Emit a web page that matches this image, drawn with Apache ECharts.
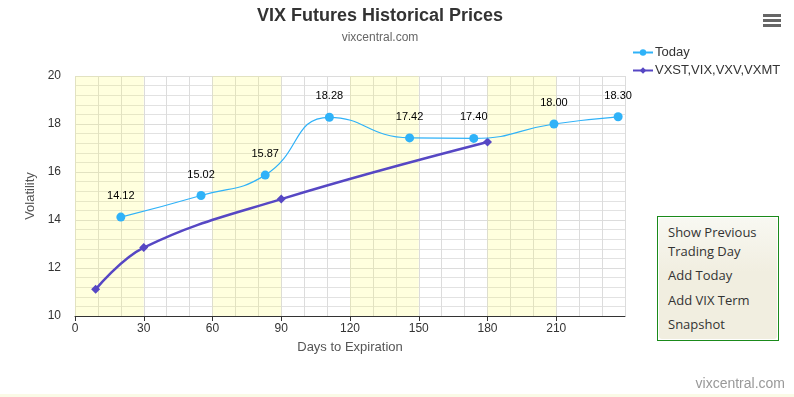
<!DOCTYPE html>
<html>
<head>
<meta charset="utf-8">
<script src="https://cdn.jsdelivr.net/npm/echarts@6/dist/echarts.min.js"></script>
<style>
  html, body { margin: 0; padding: 0; background: #fff; }
  #chart { width: 794px; height: 397px; position: relative; }
  #strip { position: absolute; left: 0; top: 394px; width: 794px; height: 3px; background: #fafae6; }
  #menu {
    position: absolute; left: 657px; top: 216px; width: 120px; height: 123px;
    border: 1px solid #1a8a1a; background: #fff;
    font-family: "Open Sans", "DejaVu Sans", sans-serif; font-size: 13px; color: #333;
  }
  #menu .inner {
    position: absolute; left: 1px; top: 1px; right: 1px; bottom: 1px; border-radius: 3px;
    background: linear-gradient(#f8f8f2, #f1eee0 45%, #f1eee0);
  }
  #menu .item { position: absolute; left: 9px; line-height: 19px; white-space: nowrap; }
</style>
</head>
<body>
<div id="chart"></div>
<div id="strip"></div>
<div id="menu"><div class="inner">
  <div class="item" style="top:5px">Show Previous<br>Trading Day</div>
  <div class="item" style="top:48px">Add Today</div>
  <div class="item" style="top:73px">Add VIX Term</div>
  <div class="item" style="top:97px">Snapshot</div>
</div></div>
<script>
// days to expiration vs price
const todayDays = [20, 55, 83, 111, 146, 174, 209, 237];
const todayPrices = [14.12, 15.02, 15.87, 18.28, 17.42, 17.40, 18.00, 18.30];
const termDays = [9, 30, 90, 180];
const termValues = [11.11, 12.85, 14.87, 17.25];
const bands = [[0, 30], [60, 90], [120, 150], [180, 210]];

const font = '"Liberation Sans", Arial, sans-serif';
const chart = echarts.init(document.getElementById('chart'), null, { renderer: 'canvas' });

const option = {
  animation: false,
  textStyle: { fontFamily: font },
  title: {
    text: 'VIX Futures Historical Prices',
    subtext: 'vixcentral.com',
    left: 375,
    textAlign: 'center',
    top: 2,
    itemGap: 7,
    textStyle: { fontSize: 18, fontWeight: 'bold', color: '#333', fontFamily: font },
    subtextStyle: { fontSize: 12, color: '#666', fontFamily: font }
  },
  legend: {
    orient: 'vertical',
    left: 627,
    top: 41,
    itemGap: 5,
    itemWidth: 20,
    itemHeight: 8,
    itemStyle: {},
    textStyle: { fontSize: 13, color: '#333', fontFamily: font, padding: [0, 0, 0, -3] },
    data: ['Today', 'VXST,VIX,VXV,VXMT']
  },
  grid: { left: 75, right: 169, top: 76, bottom: 81 },
  xAxis: {
    type: 'value',
    min: 0,
    max: 240,
    interval: 30,
    name: 'Days to Expiration',
    nameLocation: 'middle',
    nameGap: 25,
    nameTextStyle: { fontSize: 13, color: '#555' },
    axisLine: { show: true, lineStyle: { color: '#333', width: 1 } },
    axisTick: { show: true, length: 5, lineStyle: { color: '#333' } },
    axisLabel: { fontSize: 12, color: '#333', margin: 7, showMaxLabel: false },
    splitLine: { show: true, lineStyle: { color: '#dcdcdc' } },
    minorTick: { show: false, splitNumber: 3 },
    minorSplitLine: { show: true, lineStyle: { color: '#dcdcdc' } }
  },
  yAxis: {
    type: 'value',
    min: 10,
    max: 20,
    interval: 2,
    name: 'Volatility',
    nameLocation: 'middle',
    nameGap: 36,
    nameTextStyle: { fontSize: 13, color: '#555' },
    axisLine: { show: false },
    axisTick: { show: false },
    axisLabel: { fontSize: 12, color: '#333', margin: 14 },
    splitLine: { show: true, lineStyle: { color: '#dcdcdc' } },
    minorTick: { show: false, splitNumber: 5 },
    minorSplitLine: { show: true, lineStyle: { color: '#e2e2e2' } }
  },
  series: [
    {
      name: 'Today',
      type: 'line',
      smooth: 0.5,
      symbol: 'circle',
      symbolSize: 9,
      z: 3,
      color: '#2fb2f8',
      lineStyle: { width: 1.2, color: '#2fb2f8' },
      itemStyle: { color: '#2fb2f8' },
      label: {
        show: true,
        position: 'top',
        distance: 11,
        fontSize: 11,
        color: '#000',
        formatter: (p) => p.value[1].toFixed(2)
      },
      markArea: {
        silent: true,
        itemStyle: { color: 'rgba(255,255,60,0.17)' },
        data: bands.map((b) => [{ xAxis: b[0] }, { xAxis: b[1] }])
      },
      data: todayDays.map((d, i) => [d, todayPrices[i]])
    },
    {
      name: 'VXST,VIX,VXV,VXMT',
      type: 'line',
      smooth: 0.4,
      symbol: 'diamond',
      symbolSize: 9,
      z: 2,
      color: '#5647c4',
      lineStyle: { width: 2.5, color: '#5647c4' },
      itemStyle: { color: '#5647c4' },
      data: termDays.map((d, i) => [d, termValues[i]])
    }
  ],
  graphic: [
    { type: 'rect', left: 763, top: 14, shape: { width: 18, height: 3 }, style: { fill: '#666' } },
    { type: 'rect', left: 763, top: 19, shape: { width: 18, height: 3 }, style: { fill: '#666' } },
    { type: 'rect', left: 763, top: 24, shape: { width: 18, height: 3 }, style: { fill: '#666' } },
    {
      type: 'text', right: 9, top: 377,
      style: { text: 'vixcentral.com', fontSize: 14, fill: '#999', fontFamily: font }
    }
  ]
};

chart.setOption(option);
</script>
</body>
</html>
